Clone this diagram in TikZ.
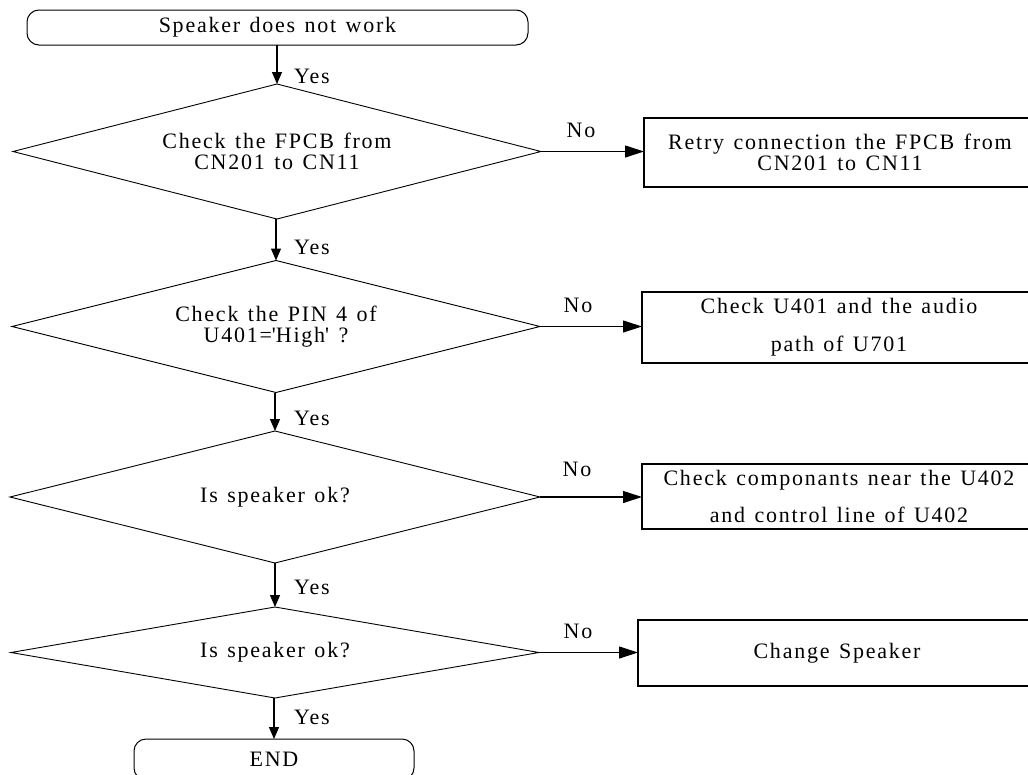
\documentclass[tikz,border=0pt]{standalone}
\usepackage{fontspec}
\setmainfont{Liberation Serif}[LetterSpace=8,WordSpace=1.3]
\usetikzlibrary{shapes.geometric,arrows.meta}
\begin{document}
\begin{tikzpicture}[x=1pt,y=-1pt,
  txt/.style={font=\fontsize{22}{21}\selectfont, align=center, inner sep=0pt},
  dia/.style={draw, line width=0.9pt, shape=diamond, aspect=4, inner sep=0pt, outer sep=0pt, txt},
  term/.style={draw, line width=1pt, rounded corners=12pt, inner sep=0pt, outer sep=0pt, txt},
  actbox/.style={draw, line width=1.1pt, inner sep=0pt, outer sep=0pt, txt},
  arr/.style={line width=1.1pt, -{Triangle[length=12pt,width=10pt]}},
  harr/.style={line width=1.1pt, -{Triangle[length=19pt,width=12pt]}},
  lbl/.style={txt}]
\useasboundingbox (0,0) rectangle (1028,774);
\clip (0,0) rectangle (1028,774);
% terminals
\node[term, minimum width=501pt, minimum height=35pt] (start) at (277.5,27.5) {Speaker does not work};
\node[term, minimum width=280pt, minimum height=41pt] (stop) at (274,759.5) {END};
% decisions
\node[dia, minimum width=528pt, minimum height=135pt] (d1) at (277,151.5) {Check the FPCB from\\CN201 to CN11};
\node[dia, minimum width=528pt, minimum height=132pt] (d2) at (276,326.5) {Check the PIN 4 of\\U401=\textquotesingle High\textquotesingle\ ?};
\node[dia, minimum width=530pt, minimum height=132pt] (d3) at (275,497) {Is speaker ok?};
\node[dia, minimum width=528pt, minimum height=91pt] (d4) at (275,652.5) {Is speaker ok?};
% actions
\node[actbox, minimum width=392pt, minimum height=69pt] (b1) at (840,152.5) {Retry connection the FPCB from\\CN201 to CN11};
\node[actbox, minimum width=394pt, minimum height=71pt] (b2) at (839,327.5) {Check U401 and the audio\\[17pt]path of U701};
\node[actbox, minimum width=394pt, minimum height=65pt] (b3) at (839,496.5) {Check componants near the U402\\[16pt]and control line of U402};
\node[actbox, minimum width=398pt, minimum height=66pt] (b4) at (837,653) {Change Speaker};
% labels
\node[lbl, anchor=west] (y1) at (294,76) {Yes};
\node[lbl, anchor=west] (y2) at (294,247) {Yes};
\node[lbl, anchor=west] (y3) at (294,418.5) {Yes};
\node[lbl, anchor=west] (y4) at (294,587) {Yes};
\node[lbl, anchor=west] (y5) at (294,717.5) {Yes};
\node[lbl] (n1) at (581,130) {No};
\node[lbl] (n2) at (578,305) {No};
\node[lbl] (n3) at (577,469) {No};
\node[lbl] (n4) at (578,631) {No};
% connectors
\draw[arr] (d1.north |- start.south) -- (d1.north);
\draw[arr] (d2.north |- d1.south) -- (d2.north);
\draw[arr] (d3.north |- d2.south) -- (d3.north);
\draw[arr] (d4.north |- d3.south) -- (d4.north);
\draw[arr] (stop.north |- d4.south) -- (stop.north);
\draw[harr] (d1.east) -- (d1.east -| b1.west);
\draw[harr] (d2.east) -- (d2.east -| b2.west);
\draw[harr] (d3.east) -- (d3.east -| b3.west);
\draw[harr] (d4.east) -- (d4.east -| b4.west);
\end{tikzpicture}
\end{document}
